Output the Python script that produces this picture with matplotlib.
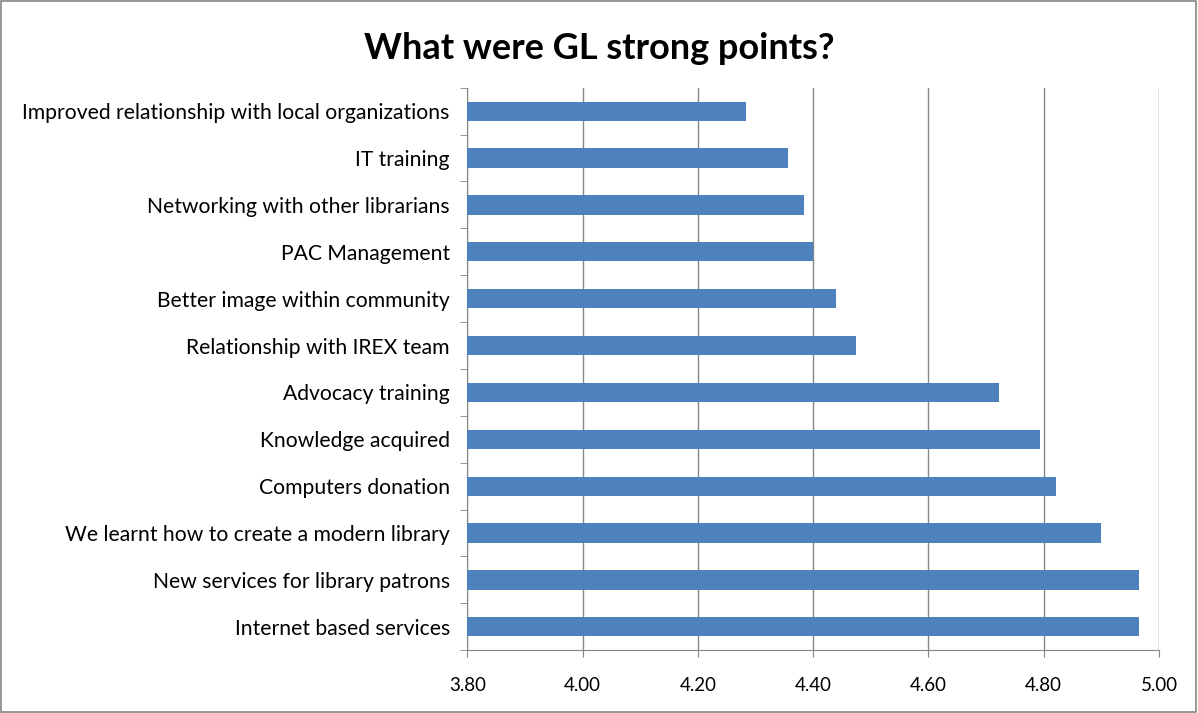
import matplotlib.pyplot as plt
import numpy as np

plt.rcParams['font.family'] = ['Lato', 'DejaVu Sans']

# categories listed bottom to top
categories = [
    "Internet based services",
    "New services for library patrons",
    "We learnt how to create a modern library",
    "Computers donation",
    "Knowledge acquired",
    "Advocacy training",
    "Relationship with IREX team",
    "Better image within community",
    "PAC Management",
    "Networking with other librarians",
    "IT training",
    "Improved relationship with local organizations",
]
scores = [4.965, 4.965, 4.90, 4.822, 4.793, 4.722, 4.474, 4.44, 4.40, 4.385, 4.357, 4.284]
xticks = [3.80, 4.00, 4.20, 4.40, 4.60, 4.80, 5.00]

fig = plt.figure(figsize=(11.98, 7.13), dpi=100)
ax = fig.add_axes([0.39, 0.088, 0.5775, 0.789])

# frame round the whole chart
fig.patches.append(plt.Rectangle((0.001, 0.001), 0.997, 0.997, transform=fig.transFigure,
                                 fill=False, edgecolor='#868686', linewidth=1.2))

y = np.arange(len(categories))
ax.barh(y, scores, height=0.41, color='#4F81BD', zorder=3)

ax.set_xlim(3.80, 5.00)
ax.set_ylim(-0.5, len(categories) - 0.5)
ax.set_xticks(xticks)
ax.set_xticklabels([f"{v:.2f}" for v in xticks], fontsize=13.5)
ax.tick_params(axis='x', length=5, color='#868686', pad=14)
ax.xaxis.grid(True, color='#868686', linewidth=1, zorder=0)

ax.set_yticks(y)
ax.set_yticklabels(categories, fontsize=15.2)
ax.tick_params(axis='y', length=0, pad=12.5)
ax.set_yticks(np.arange(-0.5, len(categories)), minor=True)
ax.tick_params(axis='y', which='minor', length=5, color='#868686')

for s in ['top', 'right']:
    ax.spines[s].set_visible(False)
for s in ['left', 'bottom']:
    ax.spines[s].set_color('#868686')

fig.text(0.5, 0.932, "What were GL strong points?", ha='center', va='center',
         fontsize=26, fontweight='bold')

fig.savefig("out.png", dpi=100)
